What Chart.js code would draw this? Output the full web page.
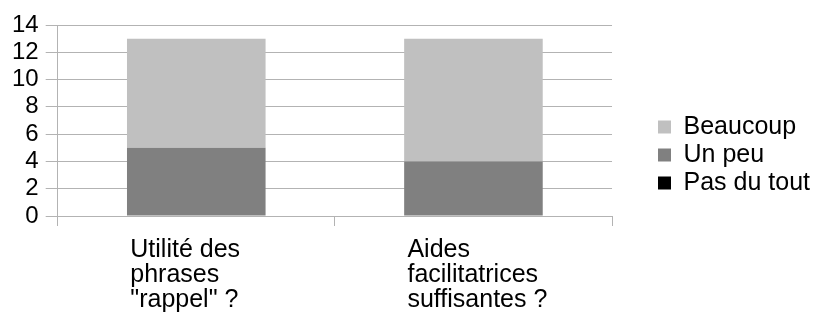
<!DOCTYPE html>
<html>
<head>
<meta charset="utf-8">
<script src="https://cdn.jsdelivr.net/npm/chart.js@4/dist/chart.umd.min.js"></script>
<style>
  html, body { margin: 0; padding: 0; background: #fff; }
  #wrap { width: 817px; height: 325px; }
</style>
</head>
<body>
<div id="wrap"><canvas id="chart"></canvas></div>
<script>
//chart data
const categories = [
    ["Utilité des", "phrases", "\"rappel\" ?"],
    ["Aides", "facilitatrices", "suffisantes ?"]
];
const pasDuTout = [0, 0];
const unPeu = [5, 4];
const beaucoup = [8, 9];
const yTicks = [0, 2, 4, 6, 8, 10, 12, 14];

const gridColor = "#b3b3b3";
const fontFamily = "'Liberation Sans', Arial, sans-serif";

const ctx = document.getElementById("chart").getContext("2d");
const chart = new Chart(ctx, {
    type: "bar",
    data: {
        labels: categories,
        datasets: [
            // zero values: no inflate so no sliver is drawn
            { label: "Pas du tout", data: pasDuTout, backgroundColor: "#000000", inflateAmount: 0 },
            { label: "Un peu", data: unPeu, backgroundColor: "#808080" },
            { label: "Beaucoup", data: beaucoup, backgroundColor: "#c0c0c0" },
        ],
    },
    options: {
        responsive: true,
        maintainAspectRatio: false,
        animation: false,
        barPercentage: 0.5,
        categoryPercentage: 1,
        // negative top so the legend sits a bit higher
        layout: {
            padding: { top: -15, left: 5, right: -3, bottom: 0 },
        },
        scales: {
            x: {
                stacked: true,
                offset: true,
                z: 1, // axis line drawn over the bars
                border: { color: gridColor },
                grid: {
                    offset: true,
                    drawOnChartArea: false,
                    drawTicks: true,
                    tickLength: 10,
                    color: gridColor,
                },
                ticks: {
                    color: "#000",
                    font: { family: fontFamily, size: 25, lineHeight: 1.0 },
                    align: "start",
                    labelOffset: -66,
                    padding: 12,
                    maxRotation: 0,
                    autoSkip: false,
                },
            },
            y: {
                stacked: true,
                min: 0,
                max: 14,
                border: { color: gridColor },
                grid: { color: gridColor, tickLength: 12 },
                afterBuildTicks: (scale) => {
                    scale.ticks = yTicks.map((v) => ({ value: v }));
                },
                ticks: {
                    color: "#000",
                    font: { family: fontFamily, size: 24 },
                    padding: 7,
                    autoSkip: false,
                },
                afterFit: (scale) => {
                    scale.paddingTop = 25;
                },
            },
            //hidden axis, only keeps a gap between plot and legend
            gap: {
                type: "linear",
                position: "right",
                display: false,
                afterFit: (scale) => {
                    scale.width = 43;
                },
            },
        },
        plugins: {
            legend: {
                position: "right",
                reverse: true,
                labels: {
                    color: "#000",
                    font: { family: fontFamily, size: 25 },
                    boxWidth: 13,
                    boxHeight: 13,
                    padding: 3,
                },
            },
            tooltip: { enabled: false },
        },
    },
});
</script>
</body>
</html>
